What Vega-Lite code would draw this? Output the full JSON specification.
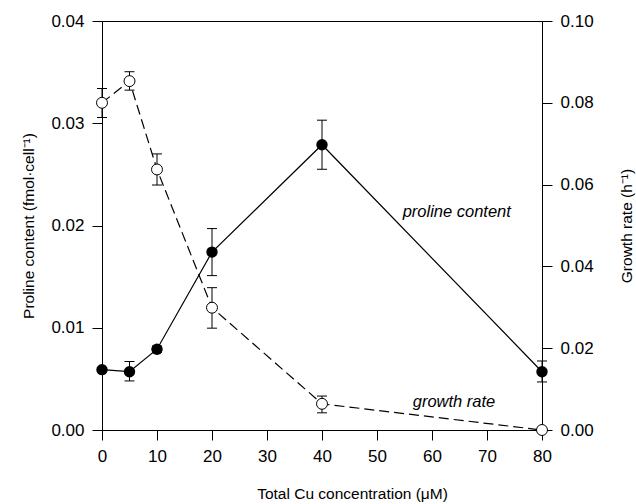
{
  "$schema": "https://vega.github.io/schema/vega-lite/v6.json",
  "width": 440,
  "height": 409,
  "autosize": {"type": "none"},
  "padding": {"left": 102, "top": 21, "right": 94, "bottom": 74},
  "background": "white",
  "config": {
    "view": {"stroke": "black", "strokeWidth": 1},
    "font": "Liberation Sans",
    "tick": {"opacity": 1},
    "axis": {
      "grid": false,
      "domainColor": "black",
      "tickColor": "black",
      "labelColor": "black",
      "titleColor": "black",
      "tickSize": 10,
      "labelFontSize": 17,
      "titleFontSize": 15.5,
      "titleFontWeight": "normal",
      "labelPadding": 8,
      "labelFlush": false,
      "labelFont": "Liberation Sans",
      "titleFont": "Liberation Sans"
    }
  },
  "datasets": {
    "d": [
      {"cu": 0, "p": 0.0059, "plo": 0.0059, "phi": 0.0059, "g": 0.080, "glo": 0.0764, "ghi": 0.0835},
      {"cu": 5, "p": 0.0057, "plo": 0.0048, "phi": 0.0067, "g": 0.0853, "glo": 0.0831, "ghi": 0.0876},
      {"cu": 10, "p": 0.0079, "plo": 0.0076, "phi": 0.0082, "g": 0.0637, "glo": 0.0599, "ghi": 0.0675},
      {"cu": 20, "p": 0.0174, "plo": 0.0151, "phi": 0.0197, "g": 0.0299, "glo": 0.0249, "ghi": 0.0348},
      {"cu": 40, "p": 0.0279, "plo": 0.0255, "phi": 0.0303, "g": 0.0064, "glo": 0.0042, "ghi": 0.0083},
      {"cu": 80, "p": 0.0057, "plo": 0.0047, "phi": 0.00675, "g": 0.0, "glo": 0.0, "ghi": 0.0}
    ],
    "labp": [{"cu": 64.5, "p": 0.0213, "t": "proline content"}],
    "labg": [{"cu": 64.0, "g": 0.0068, "t": "growth rate"}]
  },
  "encoding": {
    "x": {
      "field": "cu",
      "type": "quantitative",
      "scale": {"domain": [0, 80], "nice": false},
      "axis": {"values": [0, 10, 20, 30, 40, 50, 60, 70, 80], "title": "Total Cu concentration (μM)", "titlePadding": 22, "titleX": 250}
    }
  },
  "resolve": {"scale": {"y": "independent"}},
  "layer": [
    {
      "data": {"name": "d"},
      "layer": [
        {
          "mark": {"type": "rule", "color": "black", "strokeWidth": 1},
          "encoding": {
            "y": {"field": "plo", "type": "quantitative", "scale": {"domain": [0, 0.04], "nice": false},
              "axis": {"values": [0, 0.01, 0.02, 0.03, 0.04], "format": ".2f", "titlePadding": 14}, "title": "Proline content (fmol·cell⁻¹)"},
            "y2": {"field": "phi"}
          }
        },
        {
          "mark": {"type": "tick", "orient": "horizontal", "color": "black", "size": 10, "thickness": 1},
          "encoding": {"y": {"field": "plo", "type": "quantitative",
            "axis": {"values": [0, 0.01, 0.02, 0.03, 0.04], "format": ".2f", "titlePadding": 14}, "title": "Proline content (fmol·cell⁻¹)"}}
        },
        {
          "mark": {"type": "tick", "orient": "horizontal", "color": "black", "size": 10, "thickness": 1},
          "encoding": {"y": {"field": "phi", "type": "quantitative",
            "axis": {"values": [0, 0.01, 0.02, 0.03, 0.04], "format": ".2f", "titlePadding": 14}, "title": "Proline content (fmol·cell⁻¹)"}}
        },
        {
          "mark": {"type": "line", "color": "black", "strokeWidth": 1.2},
          "encoding": {"y": {"field": "p", "type": "quantitative",
            "axis": {"values": [0, 0.01, 0.02, 0.03, 0.04], "format": ".2f", "titlePadding": 14}, "title": "Proline content (fmol·cell⁻¹)"}}
        },
        {
          "mark": {"type": "point", "filled": true, "color": "black", "size": 130, "opacity": 1},
          "encoding": {"y": {"field": "p", "type": "quantitative",
            "axis": {"values": [0, 0.01, 0.02, 0.03, 0.04], "format": ".2f", "titlePadding": 14}, "title": "Proline content (fmol·cell⁻¹)"}}
        },
        {
          "data": {"name": "labp"},
          "mark": {"type": "text", "fontStyle": "italic", "fontSize": 16.5, "color": "black", "font": "Liberation Sans"},
          "encoding": {"y": {"field": "p", "type": "quantitative",
            "axis": {"values": [0, 0.01, 0.02, 0.03, 0.04], "format": ".2f", "titlePadding": 14}, "title": "Proline content (fmol·cell⁻¹)"}, "text": {"field": "t"}}
        }
      ]
    },
    {
      "data": {"name": "d"},
      "layer": [
        {
          "mark": {"type": "rule", "color": "black", "strokeWidth": 1},
          "encoding": {
            "y": {"field": "glo", "type": "quantitative", "scale": {"domain": [0, 0.1], "nice": false},
              "axis": {"orient": "right", "values": [0, 0.02, 0.04, 0.06, 0.08, 0.1], "format": ".2f", "titlePadding": 26, "titleAngle": 270, "titleBaseline": "top"}, "title": "Growth rate (h⁻¹)"},
            "y2": {"field": "ghi"}
          }
        },
        {
          "mark": {"type": "tick", "orient": "horizontal", "color": "black", "size": 10, "thickness": 1},
          "encoding": {"y": {"field": "glo", "type": "quantitative",
            "axis": {"orient": "right", "values": [0, 0.02, 0.04, 0.06, 0.08, 0.1], "format": ".2f", "titlePadding": 26, "titleAngle": 270, "titleBaseline": "top"}, "title": "Growth rate (h⁻¹)"}}
        },
        {
          "mark": {"type": "tick", "orient": "horizontal", "color": "black", "size": 10, "thickness": 1},
          "encoding": {"y": {"field": "ghi", "type": "quantitative",
            "axis": {"orient": "right", "values": [0, 0.02, 0.04, 0.06, 0.08, 0.1], "format": ".2f", "titlePadding": 26, "titleAngle": 270, "titleBaseline": "top"}, "title": "Growth rate (h⁻¹)"}}
        },
        {
          "mark": {"type": "line", "color": "black", "strokeWidth": 1.2, "strokeDash": [10, 5]},
          "encoding": {"y": {"field": "g", "type": "quantitative",
            "axis": {"orient": "right", "values": [0, 0.02, 0.04, 0.06, 0.08, 0.1], "format": ".2f", "titlePadding": 26, "titleAngle": 270, "titleBaseline": "top"}, "title": "Growth rate (h⁻¹)"}}
        },
        {
          "mark": {"type": "point", "filled": true, "fill": "white", "stroke": "black", "strokeWidth": 1, "size": 120, "opacity": 1},
          "encoding": {"y": {"field": "g", "type": "quantitative",
            "axis": {"orient": "right", "values": [0, 0.02, 0.04, 0.06, 0.08, 0.1], "format": ".2f", "titlePadding": 26, "titleAngle": 270, "titleBaseline": "top"}, "title": "Growth rate (h⁻¹)"}}
        },
        {
          "data": {"name": "labg"},
          "mark": {"type": "text", "fontStyle": "italic", "fontSize": 16.5, "color": "black", "font": "Liberation Sans"},
          "encoding": {"y": {"field": "g", "type": "quantitative",
            "axis": {"orient": "right", "values": [0, 0.02, 0.04, 0.06, 0.08, 0.1], "format": ".2f", "titlePadding": 26, "titleAngle": 270, "titleBaseline": "top"}, "title": "Growth rate (h⁻¹)"}, "text": {"field": "t"}}
        }
      ]
    }
  ]
}
